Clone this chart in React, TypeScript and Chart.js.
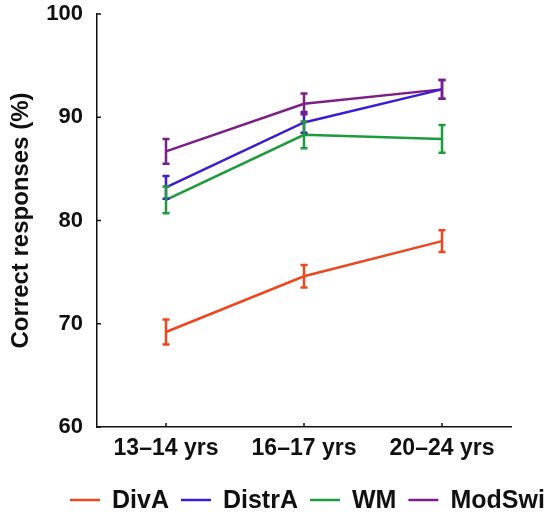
import React, { useEffect, useRef } from "react";
import { Chart, registerables } from "chart.js";

Chart.register(...registerables);

const categories = ["13–14 yrs", "16–17 yrs", "20–24 yrs"];
const seriesLabels = ["DivA", "DistrA", "WM", "ModSwi"];
const divA = [69.2, 74.6, 78.0];
const divAErr = [1.2, 1.1, 1.05];
const distrA = [83.2, 89.5, 92.7];
const distrAErr = [1.1, 1.0, 0.9];
const wm = [82.0, 88.3, 87.9];
const wmErr = [1.3, 1.3, 1.35];
const modSwi = [86.7, 91.3, 92.7];
const modSwiErr = [1.2, 1.0, 0.9];
const colors = ["#F0461E", "#3C1ED2", "#1E9B3C", "#7D1E88"];
const yTicks = [60, 70, 80, 90, 100];

const FONT = "'Liberation Sans', Arial, Helvetica, sans-serif";

const errorBarPlugin = {
  id: "errorBars",
  afterDatasetsDraw(chart: any) {
    const ctx = chart.ctx;
    const yScale = chart.scales.y;
    chart.data.datasets.forEach((ds: any, di: number) => {
      const meta = chart.getDatasetMeta(di);
      const errs: number[] = ds.errors || [];
      ctx.save();
      ctx.strokeStyle = ds.borderColor;
      ctx.lineWidth = 2.5;
      meta.data.forEach((pt: any, i: number) => {
        const v = ds.data[i];
        const e = errs[i];
        const yTop = yScale.getPixelForValue(v + e);
        const yBot = yScale.getPixelForValue(v - e);
        const x = pt.x;
        ctx.beginPath();
        ctx.moveTo(x, yTop);
        ctx.lineTo(x, yBot);
        ctx.moveTo(x - 3.5, yTop);
        ctx.lineTo(x + 3.5, yTop);
        ctx.moveTo(x - 3.5, yBot);
        ctx.lineTo(x + 3.5, yBot);
        ctx.stroke();
      });
      ctx.restore();
    });
  },
};

const ticksAndLegendPlugin = {
  id: "ticksAndLegend",
  afterDraw(chart: any) {
    const ctx = chart.ctx;
    const { x, y } = chart.scales;
    const area = chart.chartArea;
    ctx.save();
    ctx.strokeStyle = "#111";
    ctx.lineWidth = 1.5;
    y.ticks.forEach((t: any) => {
      const py = y.getPixelForValue(t.value);
      ctx.beginPath();
      ctx.moveTo(area.left, py);
      ctx.lineTo(area.left + 4, py);
      ctx.stroke();
    });
    categories.forEach((_c, i) => {
      const px = x.getPixelForValue(i);
      ctx.beginPath();
      ctx.moveTo(px, area.bottom);
      ctx.lineTo(px, area.bottom - 4);
      ctx.stroke();
    });
    // legend
    ctx.font = `bold 25px ${FONT}`;
    ctx.textBaseline = "middle";
    ctx.textAlign = "left";
    let lx = 70;
    const ly = 500;
    chart.data.datasets.forEach((ds: any) => {
      ctx.strokeStyle = ds.borderColor;
      ctx.lineWidth = 2.5;
      ctx.beginPath();
      ctx.moveTo(lx, ly);
      ctx.lineTo(lx + 30, ly);
      ctx.stroke();
      ctx.fillStyle = "#111";
      ctx.fillText(ds.label, lx + 42, ly + 1);
      lx += 42 + ctx.measureText(ds.label).width + 12;
    });
    ctx.restore();
  },
};

export default function App() {
  const ref = useRef<HTMLCanvasElement>(null);
  useEffect(() => {
    document.body.style.margin = "0";
    const values = [divA, distrA, wm, modSwi];
    const errs = [divAErr, distrAErr, wmErr, modSwiErr];
    const chart = new Chart(ref.current as HTMLCanvasElement, {
      type: "line",
      data: {
        labels: categories,
        datasets: seriesLabels.map((label, i) => ({
          label,
          data: values[i],
          errors: errs[i],
          borderColor: colors[i],
          backgroundColor: colors[i],
          borderWidth: 2.5,
          pointRadius: 0,
          tension: 0,
          fill: false,
        })) as any,
      },
      options: {
        animation: false,
        responsive: false,
        devicePixelRatio: 1,
        layout: { padding: { left: 0, right: 34, top: 14, bottom: 0 } },
        plugins: {
          legend: { display: false },
          tooltip: { enabled: false },
        },
        scales: {
          x: {
            type: "category",
            offset: true,
            grid: { display: false, drawTicks: false },
            border: { display: true, color: "#111", width: 1.5 },
            ticks: {
              color: "#111",
              padding: 8,
              font: { family: FONT, size: 23, weight: "bold" },
              maxRotation: 0,
            },
            afterFit: (s: any) => {
              s.height = 88;
              s.paddingLeft = 0;
              s.paddingRight = 0;
            },
          },
          y: {
            min: 60,
            max: 100,
            grid: { display: false, drawTicks: false },
            border: { display: true, color: "#111", width: 1.5 },
            afterBuildTicks: (s: any) => {
              s.ticks = yTicks.map((v) => ({ value: v }));
            },
            ticks: {
              color: "#111",
              padding: 14,
              font: { family: FONT, size: 22, weight: "bold" },
            },
            title: {
              display: true,
              text: "Correct responses (%)",
              color: "#111",
              padding: { top: 7, bottom: 0 },
              font: { family: FONT, size: 24, weight: "bold" },
            },
            afterFit: (s: any) => {
              s.width = 97;
              s.paddingTop = 0;
              s.paddingBottom = 0;
            },
          },
        },
      },
      plugins: [errorBarPlugin, ticksAndLegendPlugin],
    });
    return () => chart.destroy();
  }, []);
  return (
    <div style={{ width: 545, height: 515 }}>
      <canvas ref={ref} width={545} height={515} style={{ display: "block" }} />
    </div>
  );
}
